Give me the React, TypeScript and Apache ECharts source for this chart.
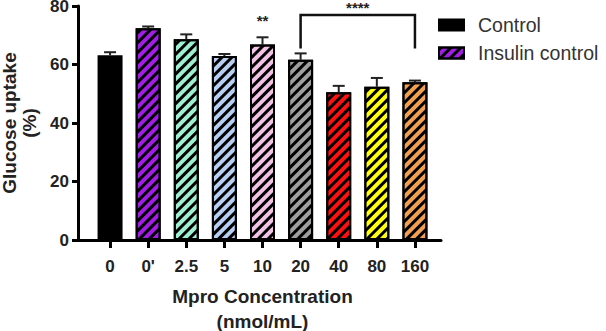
import React, { useEffect, useRef } from "react";
import * as echarts from "echarts";

const categories = ["0", "0'", "2.5", "5", "10", "20", "40", "80", "160"];
const means = [63.2, 72.4, 68.6, 62.9, 66.8, 61.6, 50.5, 52.4, 53.9];
const upper = [64.2, 73.0, 70.3, 63.6, 69.3, 63.8, 52.7, 55.4, 54.5];
const colors = ["#000000", "#a21ee6", "#9ff0d2", "#b6cff2", "#f2c2e6", "#9f9f9f", "#ff1010", "#ffff10", "#f2a050"];
const seriesNames = ["Control", "Insulin control", "Mpro"];
const seriesOf = [0, 1, 2, 2, 2, 2, 2, 2, 2];
const yTicks = { min: 0, max: 80, interval: 20 };
const sigPair = { label: "**", index: 4, y: 77.6 };
const bracket = { label: "****", from: 5, to: 8, top: 76.9, leg: 65.5, textY: 82 };

const FONT = "Arial, 'Liberation Sans', Helvetica, sans-serif";

const hatch = {
  symbol: "rect",
  symbolSize: 1,
  dashArrayX: [1, 0],
  dashArrayY: [3, 4],
  rotation: -Math.PI / 4,
  color: "#000",
};

export default function App() {
  const ref = useRef<HTMLDivElement>(null);
  useEffect(() => {
    const chart = echarts.init(ref.current!, null, { renderer: "svg" });
    const barSeries = seriesNames.map((name, s) => ({
      name,
      type: "bar",
      stack: "all",
      xAxisIndex: 0,
      yAxisIndex: 0,
      barWidth: 25,
      itemStyle: {
        color: colors[s === 0 ? 0 : 1],
        borderColor: "#000",
        borderWidth: 2,
        decal: s === 0 ? undefined : hatch,
      },
      data: means.map((v, i) =>
        seriesOf[i] === s
          ? {
              value: v,
              itemStyle: {
                color: colors[i],
                borderColor: "#000",
                borderWidth: 2,
                decal: i === 0 ? undefined : hatch,
              },
            }
          : null
      ),
    }));
    const option: any = {
      animation: false,
      backgroundColor: "#fff",
      grid: [
        { left: 91, width: 343, top: 6, bottom: 91, containLabel: false, outerBoundsMode: "none" },
        { left: 78, width: 363, top: 6, bottom: 91, containLabel: false, outerBoundsMode: "none" },
      ],
      legend: {
        data: ["Control", "Insulin control"],
        orient: "vertical",
        left: 433,
        top: 10,
        itemWidth: 25,
        itemHeight: 11,
        itemGap: 8,
        icon: "rect",
        textStyle: { fontSize: 19.5, color: "#333", fontFamily: FONT, padding: [0, 0, 0, 9] },
      },
      xAxis: [
        {
          type: "category",
          gridIndex: 0,
          data: categories,
          axisLine: { show: false },
          axisTick: { show: true, alignWithLabel: true, length: 8, lineStyle: { width: 3, color: "#000" } },
          axisLabel: { color: "#222", fontSize: 17, fontWeight: "bold", fontFamily: FONT, margin: 18 },
          name: "Mpro Concentration\n(nmol/mL)",
          nameLocation: "middle",
          nameGap: 44,
          nameTextStyle: { color: "#222", fontSize: 19, fontWeight: "bold", fontFamily: FONT, lineHeight: 25 },
        },
        {
          type: "value",
          gridIndex: 1,
          min: 0,
          max: 1,
          axisLine: { show: true, onZero: false, lineStyle: { width: 3, color: "#000" } },
          axisTick: { show: false },
          axisLabel: { show: false },
          splitLine: { show: false },
        },
      ],
      yAxis: [
        { type: "value", gridIndex: 0, ...yTicks, show: false, splitLine: { show: false } },
        {
          type: "value",
          gridIndex: 1,
          ...yTicks,
          axisLine: { show: true, lineStyle: { width: 3, color: "#000" } },
          axisTick: { show: true, length: 6, lineStyle: { width: 3, color: "#000" } },
          axisLabel: { color: "#222", fontSize: 17, fontWeight: "bold", fontFamily: FONT, margin: 9, lineHeight: 12 },
          splitLine: { show: false },
          name: "Glucose uptake\n(%)",
          nameLocation: "middle",
          nameRotate: 90,
          nameGap: 37,
          nameTextStyle: { color: "#222", fontSize: 19, fontWeight: "bold", fontFamily: FONT, lineHeight: 20 },
        },
      ],
      series: [
        ...barSeries,
        {
          type: "custom",
          xAxisIndex: 0,
          yAxisIndex: 0,
          z: 5,
          data: means.map((m, i) => [i, m, upper[i]]),
          renderItem: (params: any, api: any) => {
            const i = api.value(0);
            const lo = api.coord([i, api.value(1)]);
            const hi = api.coord([i, api.value(2)]);
            const style = { stroke: "#222", lineWidth: 2 };
            return {
              type: "group",
              children: [
                { type: "line", shape: { x1: lo[0], y1: lo[1], x2: hi[0], y2: hi[1] }, style },
                { type: "line", shape: { x1: hi[0] - 6, y1: hi[1], x2: hi[0] + 6, y2: hi[1] }, style },
              ],
            };
          },
        },
        {
          type: "custom",
          xAxisIndex: 0,
          yAxisIndex: 0,
          clip: false,
          z: 6,
          data: [[0]],
          renderItem: (params: any, api: any) => {
            const a = api.coord([bracket.from, bracket.top]);
            const b = api.coord([bracket.to, bracket.top]);
            const aLeg = api.coord([bracket.from, bracket.leg]);
            const bLeg = api.coord([bracket.to, bracket.leg]);
            const t = api.coord([bracket.from, bracket.textY]);
            const s = api.coord([sigPair.index, sigPair.y]);
            return {
              type: "group",
              children: [
                {
                  type: "polyline",
                  shape: { points: [aLeg, a, b, bLeg] },
                  style: { stroke: "#111", lineWidth: 2.5, fill: "none" },
                },
                {
                  type: "text",
                  x: (a[0] + b[0]) / 2,
                  y: Math.max(t[1], 0),
                  style: { text: bracket.label, fontSize: 15, fontWeight: "bold", fontFamily: FONT, fill: "#222", align: "center", verticalAlign: "top" },
                },
                {
                  type: "text",
                  x: s[0],
                  y: s[1],
                  style: { text: sigPair.label, fontSize: 15, fontWeight: "bold", fontFamily: FONT, fill: "#222", align: "center", verticalAlign: "top" },
                },
              ],
            };
          },
        },
      ],
    };
    chart.setOption(option);
    return () => chart.dispose();
  }, []);
  return <div ref={ref} style={{ width: 606, height: 331, position: "absolute", left: 0, top: 0 }} />;
}
